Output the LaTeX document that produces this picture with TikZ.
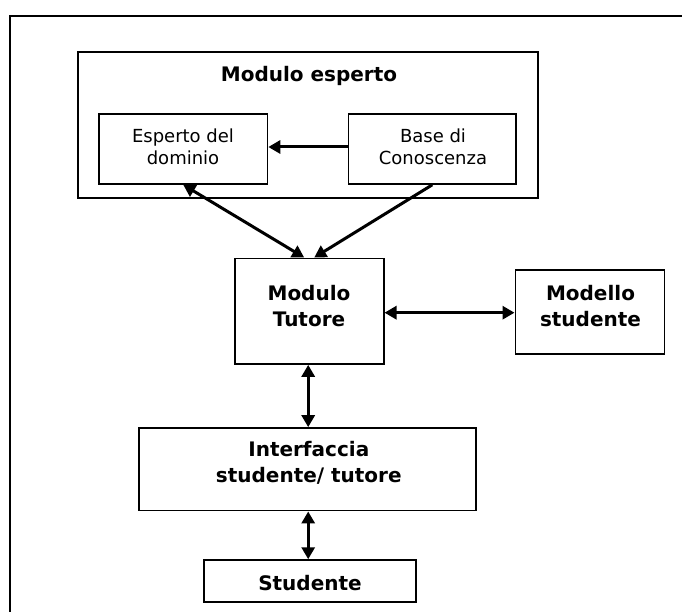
\documentclass[tikz,border=0pt]{standalone}
\usepackage{fontspec}
\setmainfont{DejaVu Sans}
\usetikzlibrary{arrows.meta}
\begin{document}
\begin{tikzpicture}[x=1pt,y=-1pt,
  box/.style={draw, line width=1.6pt, inner sep=0pt},
  lbl/.style={font=\fontsize{18}{22}\selectfont, align=center, inner sep=0pt},
  blbl/.style={font=\bfseries\fontsize{20}{26}\selectfont, align=center, inner sep=0pt},
  >={Triangle[length=12pt,width=13pt]},
  arr/.style={line width=3pt}
]
\useasboundingbox (0,0) rectangle (682,612);
% outer frame
\coordinate (fbl) at (10,700);
\coordinate (ftl) at (10,16);
\coordinate (ftr) at (700,16);
\draw[line width=2pt] (fbl) -- (ftl) -- (ftr);

% boxes
\node[box, minimum width=460pt, minimum height=146pt] (esperto) at (308,125) {};
\node[box, minimum width=168.5pt, minimum height=70pt] (dominio) at (183.25,149) {};
\node[box, minimum width=167.3pt, minimum height=70pt] (base) at (432.3,149) {};
\node[box, minimum width=149pt, minimum height=105.7pt] (tutore) at (309.2,311.2) {};
\node[box, minimum width=149pt, minimum height=84pt] (modello) at (589.8,312) {};
\node[box, minimum width=337pt, minimum height=82.7pt] (interf) at (307.5,469.3) {};
\node[box, minimum width=211.7pt, minimum height=41.7pt] (stud) at (309.9,580.9) {};

% texts
\node[blbl, anchor=base] (tEsperto) at (309,81.7) {Modulo esperto};
\node[lbl] (tDominio) at (183,146.9) {Esperto del\\dominio};
\node[lbl] (tBase) at (433,146.9) {Base di\\Conoscenza};
\node[blbl] (tTutore) at (309,306.1) {Modulo\\Tutore};
\node[blbl] (tModello) at (590.5,306.1) {Modello\\studente};
\node[blbl] (tInterf) at (308.8,462.9) {Interfaccia\\studente/ tutore};
\node[blbl, anchor=base] (tStud) at (310,590) {Studente};

% connectors
\draw[arr, ->] ([yshift=2pt]base.west) -- ([yshift=2pt]dominio.east);
\draw[arr, <->] (dominio.south) -- ([xshift=-5pt]tutore.north);
\draw[arr, ->] (base.south) -- ([xshift=5pt]tutore.north);
\draw[arr, <->] ([yshift=-1.5pt]tutore.east) -- ([yshift=-1.5pt]tutore.east -| modello.west);
\draw[arr, <->] ([xshift=-1pt]tutore.south) -- ([xshift=-1pt]tutore.south |- interf.north);
\draw[arr, <->] ([xshift=-1pt]tutore.south |- interf.south) -- ([xshift=-1pt]tutore.south |- stud.north);
\end{tikzpicture}
\end{document}
